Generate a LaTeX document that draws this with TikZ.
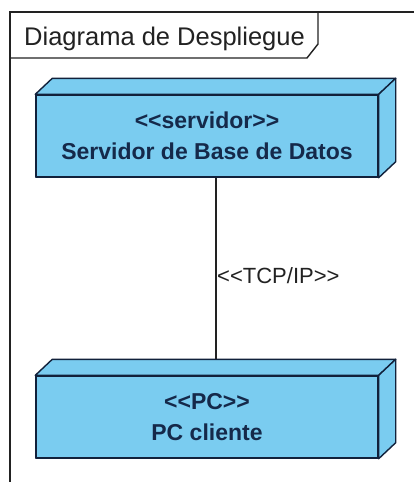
\documentclass[tikz,border=0pt]{standalone}
\usepackage{fontspec}
\setmainfont{Liberation Sans}
\usetikzlibrary{calc}
\definecolor{nodeblue}{HTML}{7ACCF0}
\definecolor{nodetext}{HTML}{15294A}
\definecolor{framecol}{HTML}{222222}
\tikzset{
  frameline/.style={draw=framecol, line width=1.4pt},
  nodeface/.style={draw=nodetext!80!black, line width=1.4pt, fill=nodeblue, line join=round},
  frontface/.style={nodeface, rectangle, minimum width=342pt, minimum height=82pt,
    inner sep=0pt, align=center, text=nodetext, font=\fontsize{23}{31}\selectfont\bfseries},
  link/.style={draw=framecol, line width=1.4pt},
}
% plain angle brackets, kept apart so no guillemet ligature forms
\newcommand{\lsq}{<{}<}
\newcommand{\rsq}{>{}>}
\newcommand{\depthdx}{17}
\newcommand{\depthdy}{-16}
% top and right faces of a 3D deployment node, behind its front face
\newcommand{\nodebox}[1]{%
  \path[nodeface] (#1.north west) -- ++(\depthdx,\depthdy) -- ($(#1.north east)+(\depthdx,\depthdy)$) -- (#1.north east) -- cycle;
  \path[nodeface] (#1.north east) -- ++(\depthdx,\depthdy) -- ($(#1.south east)+(\depthdx,\depthdy)$) -- (#1.south east) -- cycle;
}
\begin{document}
\begin{tikzpicture}[x=1pt,y=-1pt]
  \useasboundingbox (0,0) rectangle (414,482);
  \fill[white] (0,0) rectangle (414,482);
  % diagram frame with its name tab
  \draw[frameline] (414,12) -- (10,12) -- (10,482);
  \draw[frameline] (10,58) -- (307,58) -- (318,44) -- (318,12);
  \node[anchor=base west, inner sep=0pt, text=framecol, font=\fontsize{25.5}{30}\selectfont] (title) at (24,45) {Diagrama de Despliegue};
  % nodes
  \node[frontface] (srv) at (207,136) {\lsq servidor\rsq\\Servidor de Base de Datos};
  \node[frontface] (pc) at (207,417) {\lsq PC\rsq\\PC cliente};
  \nodebox{srv}
  \nodebox{pc}
  \node[frontface] at (srv) {\lsq servidor\rsq\\Servidor de Base de Datos};
  \node[frontface] at (pc) {\lsq PC\rsq\\PC cliente};
  % communication path
  \coordinate (pctop) at ($(pc.north)+(9,\depthdy)$);
  \draw[link] ($(srv.south)+(9,0)$) -- (pctop);
  \node[anchor=base west, inner sep=0pt, text=framecol, font=\fontsize{22}{26}\selectfont] (proto) at (217,283) {\lsq TCP/IP\rsq};
\end{tikzpicture}
\end{document}
